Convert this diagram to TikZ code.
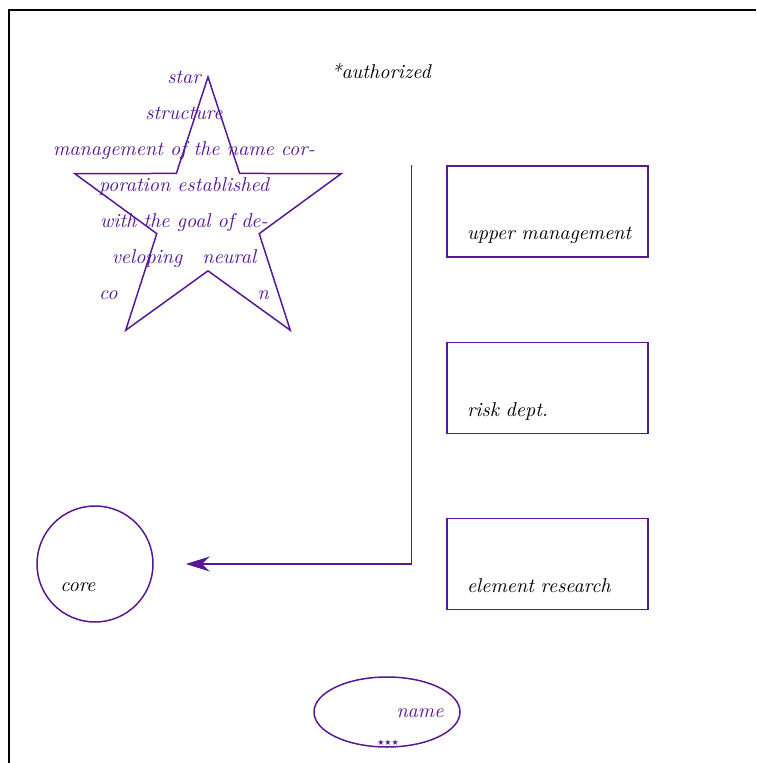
\documentclass[tikz,border=0pt]{standalone}
\usepackage{fontspec}
\newfontfamily\symfont{DejaVu Sans}
\usetikzlibrary{shapes.geometric,arrows.meta}
\definecolor{violetline}{RGB}{88,24,150}
\tikzset{
  outline/.style={draw=violetline,line width=0.75pt},
  box/.style={outline,rectangle,inner xsep=10pt,inner ysep=0pt,text width=80.5pt,
    align=left,text height=37pt,text depth=8.5pt,font=\itshape},
  txt/.style={inner sep=0pt,font=\itshape},
}
\begin{document}
\begin{tikzpicture}[x=0.5pt,y=-0.5pt]
  \useasboundingbox (0,0) rectangle (756,763);
  \draw[line width=1.2pt] (9,763) -- (9,10) -- (756,10);
  % star with its text
  \node[outline,star,star points=5,star point ratio=2.6,minimum size=140pt,inner sep=0pt] (star) at (208,217) {};
  \node[txt,text=violetline,align=center] (startext) at (184,185) {star\\[6pt] structure\\[6pt]
    management of the name cor-\\[6pt] poration established\\[6pt] with the goal of de-\\[6pt]
    veloping\quad neural\\[6pt] co\hspace{70pt}n};
  \node[txt] (auth) at (381,71) {*authorized};
  % boxes
  \foreach \y/\t/\n in {211.5/upper management/upper,388/risk dept./risk,564/element research/research}
    \node[box] (\n) at (547.5,\y) {\mbox{\t}};
  \node[outline,circle,minimum size=58pt,inner sep=0pt] (core) at (95,564) {};
  \node[txt,anchor=base west] (corelbl) at (60,591) {core};
  \draw[violetline,line width=0.75pt,-{Stealth[length=12pt,width=7.5pt]}]
    ([xshift=-17.5pt]upper.north west) |- ([xshift=16pt]core.east);
  % ellipse
  \node[outline,ellipse,minimum width=73pt,minimum height=35pt,inner sep=0pt] (name) at (387,712) {};
  \node[txt,text=violetline] (namelbl) at (420,713) {name};
  \node[inner sep=0pt,text=violetline,font=\symfont\fontsize{4}{4}\selectfont] (stars) at (388,743) {★★★};
\end{tikzpicture}
\end{document}
